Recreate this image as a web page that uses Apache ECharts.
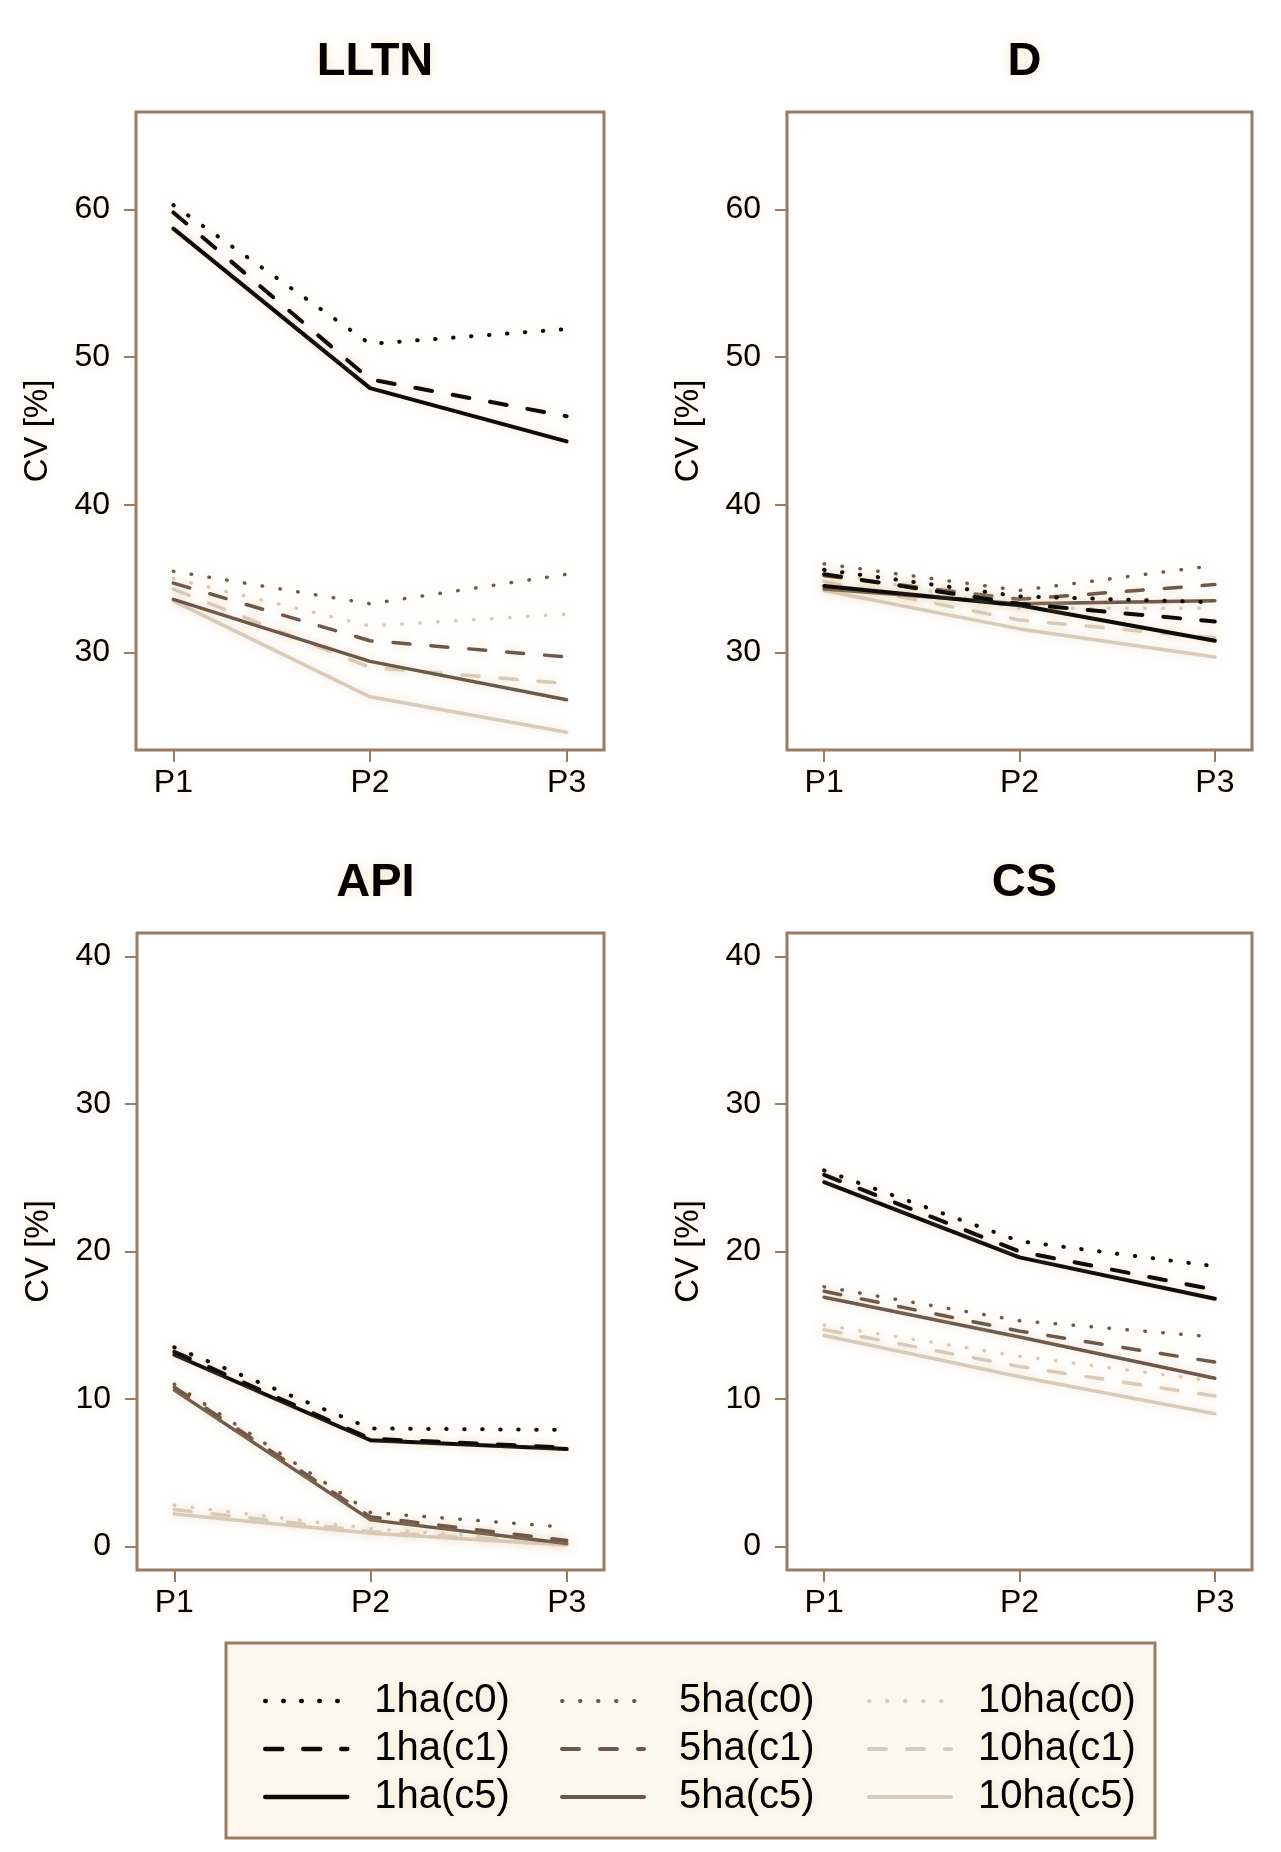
<!DOCTYPE html>
<html>
<head>
<meta charset="utf-8">
<script src="https://cdn.jsdelivr.net/npm/echarts@6/dist/echarts.min.js"></script>
<style>
  html, body { margin: 0; padding: 0; background: #fff; }
  #main { width: 1281px; height: 1852px; }
</style>
</head>
<body>
<div id="main"></div>
<script>
// categories and series
var categories = ['P1', 'P2', 'P3'];
var seriesNames = ['1ha(c0)', '1ha(c1)', '1ha(c5)', '5ha(c0)', '5ha(c1)', '5ha(c5)', '10ha(c0)', '10ha(c1)', '10ha(c5)'];
var panelTitles = ['LLTN', 'D', 'API', 'CS'];
var topTicks = [30, 40, 50, 60];
var bottomTicks = [0, 10, 20, 30, 40];

// CV [%] values, one row per series (same order as seriesNames), P1..P3
var lltnCV = [
  [60.3, 50.9, 51.9], [59.8, 48.5, 46.0], [58.7, 47.9, 44.3],
  [35.5, 33.3, 35.3], [34.7, 30.8, 29.7], [33.6, 29.4, 26.8],
  [35.0, 31.8, 32.6], [34.3, 29.0, 27.9], [33.5, 27.0, 24.6]
];
var dCV = [
  [35.6, 33.8, 33.4], [35.3, 33.3, 32.1], [34.5, 33.2, 30.8],
  [36.0, 34.2, 35.9], [35.2, 33.6, 34.6], [34.3, 33.3, 33.5],
  [35.5, 33.0, 33.0], [34.8, 32.2, 31.0], [34.2, 31.6, 29.7]
];
var apiCV = [
  [13.5, 8.0, 7.9], [13.2, 7.3, 6.7], [13.0, 7.2, 6.6],
  [11.0, 2.3, 1.3], [10.8, 2.0, 0.4], [10.6, 1.8, 0.2],
  [2.8, 1.2, 0.3], [2.5, 1.0, 0.2], [2.2, 0.9, 0.1]
];
var csCV = [
  [25.5, 20.7, 19.0], [25.2, 20.0, 17.4], [24.7, 19.6, 16.8],
  [17.6, 15.3, 14.2], [17.3, 14.6, 12.5], [16.9, 14.2, 11.4],
  [15.0, 12.9, 11.2], [14.7, 12.2, 10.2], [14.3, 11.5, 9.0]
];

var panelData = [lltnCV, dCV, apiCV, csCV];
var panelTicks = [topTicks, topTicks, bottomTicks, bottomTicks];

var brown = '#9b7c63';
var halo = '#f1e4c9';
var font = '"Liberation Sans", Arial, sans-serif';
var sizeColor = ['#0d0a08', '#6e584b', '#d9cbbb'];
var sizeWidth = [4, 3.5, 3.5];
var dashFor = [[0.5, 17.5], [17, 21], 'solid'];

var grids = [
  {left: 136, top: 112, width: 468, height: 638},
  {left: 787, top: 112, width: 465, height: 638},
  {left: 137, top: 933, width: 467, height: 637},
  {left: 787, top: 933, width: 465, height: 637}
];

var myChart = echarts.init(document.getElementById('main'));
var option = null;

var titles = [], xAxes = [], yAxes = [], series = [];
for (var p = 0; p < 4; p++) {
  var g = grids[p];
  titles.push({
    text: panelTitles[p],
    left: g.left + g.width / 2,
    top: g.top - 78,
    textAlign: 'center',
    textStyle: {fontSize: 47, fontWeight: 'bold', color: '#000', fontFamily: font,
      textShadowColor: halo, textShadowBlur: 12}
  });
  var ticks = panelTicks[p];
  var lo = ticks[0] === 0 ? 0 : 25;
  var hi = ticks[0] === 0 ? 40 : 65;
  var pad = (hi - lo) * 0.04;
  xAxes.push({
    type: 'value', gridIndex: p, min: 0.81, max: 3.19,
    axisLine: {show: false, onZero: false},
    splitLine: {show: false},
    axisTick: {show: true, length: 12, customValues: [1, 2, 3], lineStyle: {color: brown, width: 2}},
    axisLabel: {
      customValues: [1, 2, 3], margin: 17,
      fontSize: 32, color: '#000', fontFamily: font,
      textShadowColor: halo, textShadowBlur: 10,
      formatter: function (v) { return categories[Math.round(v) - 1]; }
    }
  });
  yAxes.push({
    type: 'value', gridIndex: p, min: lo - pad, max: hi + pad,
    name: 'CV [%]', nameLocation: 'middle', nameRotate: 90, nameGap: 82,
    nameTextStyle: {fontSize: 33, color: '#000', fontFamily: font, textShadowColor: halo, textShadowBlur: 10},
    axisLine: {show: false, onZero: false},
    splitLine: {show: false},
    axisTick: {show: true, length: 12, customValues: ticks, lineStyle: {color: brown, width: 2}},
    axisLabel: {customValues: ticks, margin: 26, fontSize: 32, color: '#000', fontFamily: font,
      textShadowColor: halo, textShadowBlur: 10}
  });
  // draw 10ha first, 1ha last so the dark lines sit on top
  for (var k = 8; k >= 0; k--) {
    var sz = Math.floor(k / 3);
    var ct = k % 3;
    var vals = panelData[p][k];
    series.push({
      name: seriesNames[k],
      type: 'line',
      xAxisIndex: p, yAxisIndex: p,
      symbol: 'none',
      silent: true,
      data: vals.map(function (v, i) { return [i + 1, v]; }),
      lineStyle: {color: sizeColor[sz], width: sizeWidth[sz], type: dashFor[ct], cap: 'round', join: 'round',
        shadowColor: 'rgba(225,200,155,0.55)', shadowBlur: 10},
      itemStyle: {color: sizeColor[sz]}
    });
  }
}

var legendLeft = [258, 555, 862];
var legendPad = [22, 30, 22];
var legends = [];
for (var c = 0; c < 3; c++) {
  legends.push({
    left: legendLeft[c], top: 1676, orient: 'vertical',
    itemWidth: 82, itemHeight: 20, itemGap: 8,
    selectedMode: false,
    data: seriesNames.slice(c * 3, c * 3 + 3),
    itemStyle: {opacity: 0},
    lineStyle: {width: sizeWidth[c] + 0.5},
    textStyle: {fontSize: 40, lineHeight: 40, color: '#000', fontFamily: font, padding: [0, 0, 0, legendPad[c]],
      textShadowColor: halo, textShadowBlur: 10}
  });
}

option = {
  backgroundColor: '#fff',
  animation: false,
  title: titles,
  grid: grids.map(function (g) {
    return {left: g.left, top: g.top, width: g.width, height: g.height, show: true,
      borderColor: brown, borderWidth: 3, backgroundColor: 'transparent', containLabel: false, outerBoundsMode: 'none'};
  }),
  xAxis: xAxes,
  yAxis: yAxes,
  legend: legends,
  graphic: [{
    type: 'rect', z: -10,
    shape: {x: 226, y: 1643, width: 929, height: 195},
    style: {fill: '#fcf8ef', stroke: brown, lineWidth: 3}
  }],
  series: series
};

if (option && typeof option === "object") {
  myChart.setOption(option, true);
}
window.addEventListener("resize", function () {
  myChart.resize();
});
</script>
</body>
</html>
